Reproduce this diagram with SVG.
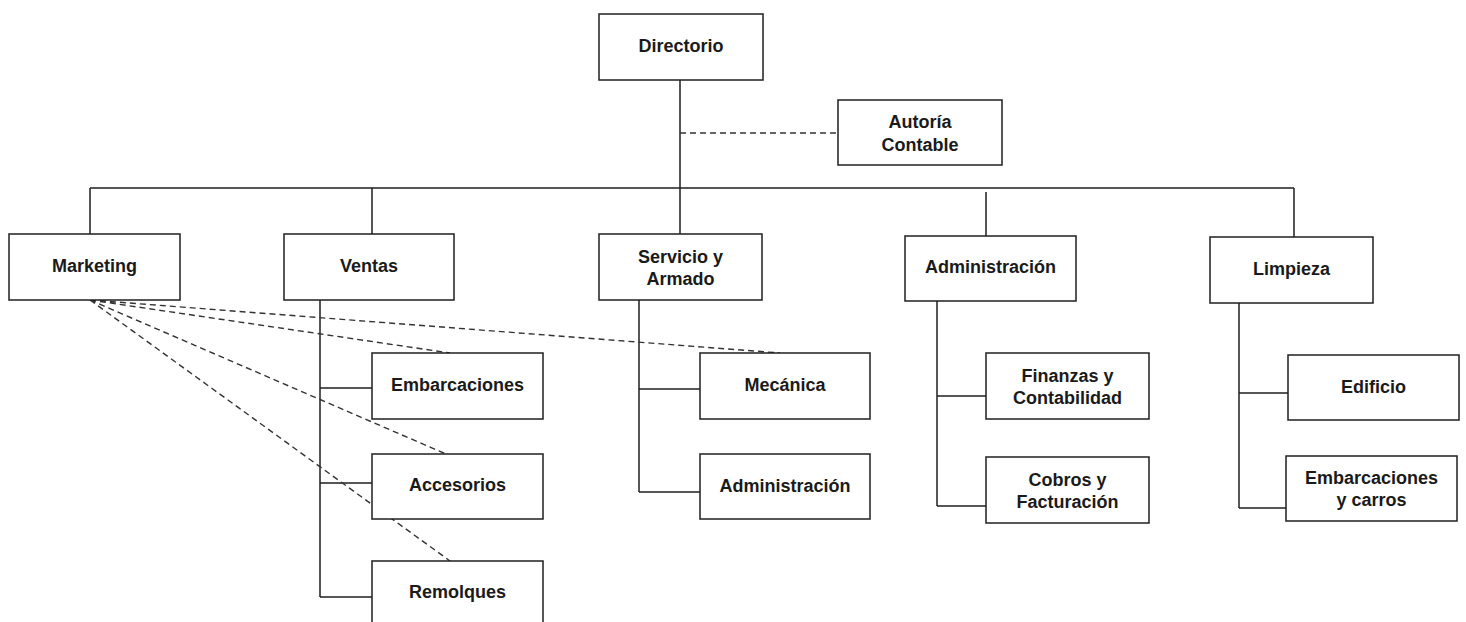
<svg xmlns="http://www.w3.org/2000/svg" width="1466" height="622" viewBox="0 0 1466 622">
<style>
.box{fill:#ffffff;stroke:#1f1f1f;stroke-width:1.5}
.t{font-family:"Liberation Sans",Arial,sans-serif;font-weight:bold;font-size:18px;fill:#1a1a1a;text-anchor:middle}
.ln{fill:none;stroke:#1f1f1f;stroke-width:1.5}
.dl{fill:none;stroke:#333333;stroke-width:1.4;stroke-dasharray:6 4}
</style>
<rect width="1466" height="622" fill="#ffffff"/>
<g id="connectors">
<path class="ln" d="M680,80 V234 M90,188 H1294 M90,188 V234 M372,188 V234 M986,192 V236 M1294,188 V237"/>
<path class="ln" d="M320,300 V597 M320,388 H372 M320,483 H372 M320,597 H372"/>
<path class="ln" d="M639,300 V492 M639,389 H700 M639,492 H700"/>
<path class="ln" d="M937,301 V506 M937,396 H986 M937,506 H986"/>
<path class="ln" d="M1239,303 V508 M1239,393 H1288 M1239,508 H1286"/>
<path class="dl" d="M680,133 H838"/>
<path class="dl" d="M90,300 L450,353 M90,300 L780,353 M90,300 L446,454 M90,300 L450,561"/>
</g>
<g id="directorio"><rect class="box" x="599" y="14" width="164" height="66"/><text class="t" x="681" y="52">Directorio</text></g>
<g id="autoria"><rect class="box" x="838" y="100" width="164" height="65"/><text class="t" x="920" y="128">Autoría</text><text class="t" x="920" y="151">Contable</text></g>
<g id="marketing"><rect class="box" x="9" y="234" width="171" height="66"/><text class="t" x="94.5" y="272">Marketing</text></g>
<g id="ventas"><rect class="box" x="284" y="234" width="170" height="66"/><text class="t" x="369" y="272">Ventas</text></g>
<g id="servicio"><rect class="box" x="599" y="234" width="163" height="66"/><text class="t" x="680.5" y="263">Servicio y</text><text class="t" x="680.5" y="285">Armado</text></g>
<g id="administracion"><rect class="box" x="905" y="236" width="171" height="65"/><text class="t" x="990.5" y="273">Administración</text></g>
<g id="limpieza"><rect class="box" x="1210" y="237" width="163" height="66"/><text class="t" x="1291.5" y="275">Limpieza</text></g>
<g id="embarcaciones"><rect class="box" x="372" y="353" width="171" height="66"/><text class="t" x="457.5" y="391">Embarcaciones</text></g>
<g id="accesorios"><rect class="box" x="372" y="454" width="171" height="65"/><text class="t" x="457.5" y="491">Accesorios</text></g>
<g id="remolques"><rect class="box" x="372" y="561" width="171" height="65"/><text class="t" x="457.5" y="598">Remolques</text></g>
<g id="mecanica"><rect class="box" x="700" y="353" width="170" height="66"/><text class="t" x="785" y="391">Mecánica</text></g>
<g id="administracion2"><rect class="box" x="700" y="454" width="170" height="65"/><text class="t" x="785" y="492">Administración</text></g>
<g id="finanzas"><rect class="box" x="986" y="353" width="163" height="66"/><text class="t" x="1067.5" y="382">Finanzas y</text><text class="t" x="1067.5" y="404">Contabilidad</text></g>
<g id="cobros"><rect class="box" x="986" y="457" width="163" height="66"/><text class="t" x="1067.5" y="486">Cobros y</text><text class="t" x="1067.5" y="508">Facturación</text></g>
<g id="edificio"><rect class="box" x="1288" y="355" width="171" height="65"/><text class="t" x="1373.5" y="393">Edificio</text></g>
<g id="embcarros"><rect class="box" x="1286" y="456" width="171" height="65"/><text class="t" x="1371.5" y="484">Embarcaciones</text><text class="t" x="1371.5" y="506">y carros</text></g>
</svg>
